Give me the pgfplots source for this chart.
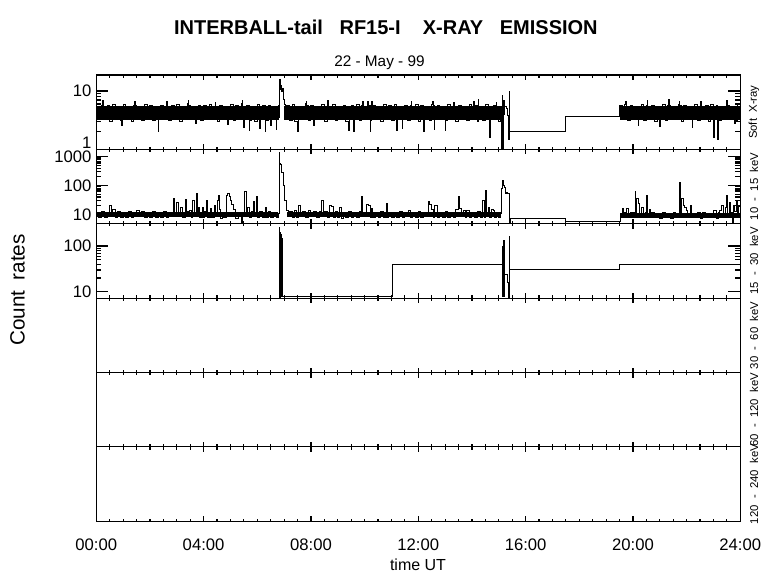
\documentclass[border=0pt]{standalone}
\usepackage{fontspec}
\setmainfont{Liberation Sans}
\usepackage{pgfplots}
\pgfplotsset{compat=1.18}
\pgfplotsset{
  panel/.style={
    scale only axis, width=483pt, height=55.78pt,
    anchor=north west,
    xmin=0, xmax=24, xtick={0,4,...,24}, minor x tick num=7,
    xticklabels={},
    xtick pos=both, ytick pos=both, tick align=inside,
    axis line style={line width=0.9pt},
    every tick/.append style={line width=0.9pt, black},
    xtick style={/pgfplots/major tick length=3.75pt, /pgfplots/minor tick length=2pt},
    ytick style={/pgfplots/major tick length=9pt, /pgfplots/minor tick length=3.75pt},
    yticklabel style={font=\fontsize{12.5}{12.5}\selectfont, inner sep=0pt, anchor=east, xshift=-3.4pt},
    xticklabel style={font=\fontsize{12.5}{12.5}\selectfont, inner sep=0pt, anchor=north, yshift=-12.75pt},
    /pgf/number format/assume math mode=true,
  },
  dat/.style={const plot, black, line width=0.7pt, mark=none},
  core/.style={fill=black, draw=none},
}
\begin{document}
\begin{tikzpicture}
\useasboundingbox (0,0) rectangle (585pt,-434.25pt);
\node[font=\fontsize{15}{15}\selectfont\bfseries] at (289.4pt,-20.25pt)
  {INTERBALL-tail\hspace{0.83em}RF15-I\hspace{1.11em}X-RAY\hspace{0.83em}EMISSION};
\node[font=\fontsize{11.5}{11.5}\selectfont] at (284.6pt,-46.9pt) {22 - May - 99};
\node[font=\fontsize{15.5}{15.5}\selectfont, rotate=90] at (13.1pt,-217.5pt) {Count\hspace{0.5em}rates};
\node[font=\fontsize{12}{12}\selectfont] at (313.5pt,-423.75pt) {time UT};
\begin{scope}[every node/.style={font=\fontsize{8.5}{8.5}\selectfont, rotate=90}]
\node at (565.5pt,-84.1pt) {Soft\ \ X-ray};
\node at (565.5pt,-139.9pt) {10\ \ -\ \ 15\ \ keV};
\node at (565.5pt,-195.7pt) {15\ \ -\ \ 30\ \ keV};
\node at (565.5pt,-251.5pt) {30\ \ -\ \ 60\ \ keV};
\node at (565.5pt,-307.3pt) {60\ \ -\ \ 120\ \ keV};
\node at (565.5pt,-363.0pt) {120\ \ -\ \ 240\ \ keV};
\end{scope}

% ---------------- Panel 1: Soft X-ray
\begin{axis}[panel, at={(72.2pt,-56.25pt)}, ymode=log, ymin=1, ymax=18.8,
  ytick={1,10}, yticklabels={\raisebox{0.4pt}[0pt][0pt]{1},10}]
\addplot[core] coordinates {(0,3.2)(6.78,3.2)(6.78,5.6)(0,5.6)} -- cycle;
\addplot[core] coordinates {(7.0,3.15)(15.08,3.15)(15.08,5.6)(7.0,5.6)} -- cycle;
\addplot[core] coordinates {(19.51,3.15)(24,3.15)(24,5.6)(19.51,5.6)} -- cycle;
\addplot[dat] table {
x y
0.00 5.5
0.10 3.2
0.20 5.7
0.23 7.0
0.25 5.4
0.30 3.3
0.40 5.6
0.50 3.0
0.60 5.8
0.70 3.4
0.80 5.4
0.90 3.1
0.95 2.6
0.97 3.3
1.00 5.9
1.10 3.2
1.20 5.5
1.30 3.0
1.40 5.7
1.43 6.5
1.45 5.6
1.50 3.4
1.60 5.3
1.70 3.1
1.80 5.8
1.90 3.3
2.00 5.6
2.10 3.1
2.20 5.5
2.30 2.0
2.32 3.2
2.40 5.7
2.50 3.3
2.60 5.9
2.63 6.6
2.65 5.5
2.70 3.1
2.80 5.6
2.90 3.4
3.00 5.8
3.10 3.0
3.20 5.4
3.30 3.2
3.40 6.0
3.43 6.9
3.45 5.6
3.50 3.3
3.60 5.5
3.70 2.8
3.72 3.3
3.80 5.7
3.90 3.1
4.00 5.6
4.10 3.4
4.20 5.9
4.30 3.2
4.40 5.5
4.43 6.4
4.45 5.4
4.50 3.0
4.60 5.7
4.70 3.3
4.80 5.5
4.90 2.7
4.92 3.2
5.00 5.8
5.10 3.1
5.20 5.6
5.30 3.3
5.40 6.1
5.43 6.8
5.45 5.5
5.50 2.4
5.52 3.2
5.60 5.7
5.70 2.1
5.72 3.1
5.80 5.5
5.90 3.0
6.00 5.9
6.10 2.3
6.12 3.2
6.20 5.6
6.30 2.0
6.32 3.1
6.40 5.7
6.50 2.6
6.52 3.3
6.60 5.5
6.70 2.2
6.72 3.3
6.78 5.6
6.80 3.5
6.82 16
6.85 10.5
6.88 12.5
6.91 9.8
6.94 11
6.97 7.2
7.00 5.9
7.05 3.2
7.10 5.6
7.20 3.1
7.30 5.8
7.40 3.0
7.50 2.0
7.52 3.3
7.60 5.5
7.70 3.2
7.80 6.0
7.83 6.7
7.85 5.6
7.90 3.1
8.00 5.7
8.10 2.6
8.12 3.3
8.20 5.5
8.30 3.2
8.40 5.9
8.50 3.0
8.60 5.6
8.63 6.8
8.65 5.5
8.70 3.3
8.80 5.8
8.90 3.1
9.00 5.5
9.10 3.3
9.20 5.7
9.30 3.0
9.40 2.1
9.42 3.2
9.50 5.6
9.60 2.0
9.62 3.3
9.70 5.9
9.80 3.1
9.90 5.6
9.93 6.5
9.95 5.5
10.00 3.2
10.10 6.6
10.13 5.7
10.20 2.0
10.22 3.1
10.25 6.7
10.28 5.6
10.40 3.3
10.50 5.5
10.60 3.0
10.70 5.8
10.80 3.2
10.90 5.6
11.00 3.1
11.10 5.9
11.20 2.1
11.22 3.2
11.30 5.5
11.40 2.3
11.42 3.3
11.50 5.7
11.60 3.1
11.70 5.6
11.73 6.6
11.75 5.5
11.80 3.2
11.90 5.8
12.00 3.0
12.10 5.6
12.20 2.0
12.22 3.3
12.30 5.5
12.40 3.1
12.50 5.9
12.53 6.5
12.55 5.6
12.60 2.2
12.62 3.2
12.70 5.7
12.80 3.3
12.90 5.5
13.00 2.1
13.02 3.1
13.10 5.8
13.20 3.2
13.30 5.6
13.33 6.4
13.35 5.5
13.40 3.0
13.50 5.7
13.60 3.3
13.70 5.5
13.80 3.1
13.90 5.9
14.00 3.2
14.05 6.7
14.08 5.6
14.20 3.0
14.23 7.3
14.26 5.5
14.40 3.1
14.50 5.8
14.60 3.3
14.67 1.6
14.69 3.2
14.80 5.6
14.90 6.4
14.93 5.5
15.00 3.0
15.05 5.5
15.10 3.4
15.11 1.0
15.12 8.5
15.14 1.0
15.16 7.0
15.20 4.0
15.23 5.5
15.28 5.0
15.34 3.8
15.37 1.45
15.39 9.7
15.40 2.0
17.47 3.6
19.51 5.6
19.60 3.2
19.70 5.8
19.73 6.6
19.75 5.5
19.80 3.1
19.90 5.7
20.00 3.3
20.10 5.5
20.20 2.6
20.22 3.2
20.30 5.9
20.40 3.1
20.50 5.6
20.53 6.9
20.55 5.5
20.60 3.3
20.70 5.7
20.80 3.0
20.90 5.5
21.00 2.5
21.02 3.2
21.10 5.8
21.20 3.1
21.30 5.6
21.33 7.2
21.35 5.7
21.40 3.3
21.50 5.5
21.60 3.2
21.70 5.9
21.73 6.5
21.75 5.6
21.80 3.0
21.90 5.7
22.00 3.3
22.10 5.5
22.20 2.4
22.22 3.2
22.30 5.8
22.40 3.1
22.50 5.6
22.53 6.6
22.55 5.5
22.60 3.3
22.70 5.7
22.80 3.0
22.90 5.9
23.00 1.6
23.02 3.2
23.10 5.6
23.15 1.5
23.17 3.1
23.30 5.5
23.40 3.2
23.50 6.8
23.53 5.7
23.60 3.3
23.70 5.5
23.80 2.8
23.82 3.1
23.90 5.8
24.00 3.4
};
\end{axis}

% ---------------- Panel 2: 10-15 keV
\begin{axis}[panel, at={(72.2pt,-112.03pt)}, ymode=log, ymin=4.7, ymax=1790,
  ytick={10,100,1000}, yticklabels={10,100,1000}]
\addplot[core] coordinates {(0,8.0)(6.78,8.0)(6.78,12.3)(0,12.3)} -- cycle;
\addplot[core] coordinates {(7.1,8.0)(15.08,8.0)(15.08,12.3)(7.1,12.3)} -- cycle;
\addplot[core] coordinates {(19.52,7.4)(24,7.4)(24,11.3)(19.52,11.3)} -- cycle;
\addplot[dat] table {
x y
0.0 12
0.1 8
0.2 13
0.3 7.5
0.4 12
0.5 21
0.55 9
0.6 15
0.7 8
0.8 13
0.9 7.5
1.0 12
1.1 8
1.2 12.5
1.3 7.8
1.4 12
1.5 14
1.6 9
1.7 12.5
1.8 7.5
1.9 12
2.0 8
2.1 12.5
2.2 7.8
2.3 12
2.4 8
2.5 12.5
2.6 7.6
2.7 12
2.8 8.5
2.87 36
2.93 12
3.0 25
3.05 9
3.12 17
3.2 8
3.31 34
3.35 9
3.4 13
3.49 14
3.55 8
3.6 31
3.65 10
3.72 54
3.76 9
3.8 17
3.85 8
3.95 17
4.0 8
4.05 13
4.11 31
4.15 8
4.24 16
4.3 8
4.4 20
4.45 12
4.5 30
4.55 46
4.6 15
4.64 7
4.7 12
4.75 8
4.86 45
4.9 54
4.95 40
5.0 30
5.05 22
5.1 15
5.17 10
5.2 7
5.3 12
5.4 5
5.45 12
5.54 61
5.58 9
5.65 17
5.7 8
5.8 13
5.85 27
5.9 9
5.98 41
6.02 8
6.1 13
6.2 7.5
6.29 17
6.35 8
6.4 12.5
6.5 7.8
6.6 12
6.7 8
6.78 11
6.81 1430
6.84 600
6.88 520
6.91 290
6.97 100
7.03 30
7.1 14
7.15 8.5
7.2 13
7.3 8
7.4 14
7.45 8
7.53 21
7.6 8.5
7.7 13
7.8 8
7.9 14
8.0 8.5
8.1 12.5
8.2 7.5
8.3 13
8.4 31
8.45 9
8.5 13
8.6 8
8.7 21
8.77 18
8.85 8
8.9 13
9.0 7.5
9.08 17
9.15 7.2
9.2 12
9.3 7.8
9.4 12.5
9.5 8
9.6 12
9.7 7.5
9.8 13
9.89 41
9.93 9
10.0 12
10.08 22
10.14 20
10.2 8
10.26 16
10.3 7.5
10.4 12
10.5 8
10.6 12.5
10.7 7.6
10.8 24
10.85 8
10.9 12
11.0 7.8
11.1 12
11.2 8
11.3 12.5
11.4 7.5
11.5 12
11.63 14
11.7 7.8
11.8 12
11.9 8
12.0 12.5
12.1 7.6
12.2 12
12.3 8.5
12.37 29
12.42 22
12.5 15
12.55 8
12.62 20
12.7 8
12.8 12
12.9 7.5
13.0 12.5
13.1 7.8
13.2 12
13.3 8
13.4 15
13.49 41
13.53 16
13.6 9
13.68 14
13.75 8
13.8 14
13.9 7.6
14.0 12
14.1 8
14.2 13
14.3 8
14.4 31
14.45 8
14.51 68
14.55 9
14.6 17
14.65 8
14.72 15
14.79 14
14.85 8
14.9 12
15.0 8
15.08 11
15.11 77
15.15 150
15.18 100
15.22 88
15.26 53
15.30 58
15.34 53
15.41 4.0
15.43 6.9
17.5 5.8
19.52 11
19.6 16
19.65 8
19.7 12
19.77 16
19.83 9
19.89 12
19.95 7.5
20.0 12
20.08 61
20.11 12
20.14 36
20.2 24
20.24 10
20.27 9
20.3 14
20.33 17
20.38 10
20.45 12
20.48 8
20.51 46
20.55 10
20.6 15
20.65 8
20.7 12
20.8 7.5
20.9 11
21.0 7
21.1 11.5
21.2 7.5
21.3 11
21.4 7
21.5 11.5
21.6 7.5
21.7 11
21.75 130
21.78 10
21.82 36
21.87 20
21.93 17
22.0 14
22.05 8
22.13 21
22.18 8
22.24 11
22.3 7.5
22.4 11.5
22.5 7
22.6 12
22.7 7.5
22.8 11
22.9 7.5
23.0 14
23.1 7
23.2 11.5
23.24 14
23.31 20
23.38 10
23.45 17
23.5 46
23.54 10
23.6 25
23.65 12
23.7 5
23.75 20
23.8 13
23.85 28
23.9 10
23.95 18
24.0 12
};
\end{axis}

% ---------------- Panel 3: 15-30 keV
\begin{axis}[panel, at={(72.2pt,-167.81pt)}, ymode=log, ymin=7.25, ymax=308,
  ytick={10,100}, yticklabels={10,100}]
\addplot[dat] table {
x y
6.80 4
6.81 250
6.83 7.5
6.85 200
6.87 8
6.89 180
6.91 150
6.93 8.1
6.95 7.85
11.03 40.4
15.12 7.7
15.13 97
15.15 7.7
15.16 120
15.18 7.7
15.19 130
15.21 7.7
15.22 24.4
15.31 16.3
15.36 7.0
15.39 160
15.40 30.9
19.51 40.4
24.0 40.4
};
\end{axis}

% ---------------- Panels 4-6 (empty)
\begin{axis}[panel, at={(72.2pt,-223.59pt)}, ymin=0, ymax=1, ytick=\empty]
\end{axis}
\begin{axis}[panel, at={(72.2pt,-279.37pt)}, ymin=0, ymax=1, ytick=\empty]
\end{axis}
\begin{axis}[panel, at={(72.2pt,-335.15pt)}, ymin=0, ymax=1, ytick=\empty,
  xticklabels={00:00,04:00,08:00,12:00,16:00,20:00,24:00}]
\end{axis}
\end{tikzpicture}
\end{document}
